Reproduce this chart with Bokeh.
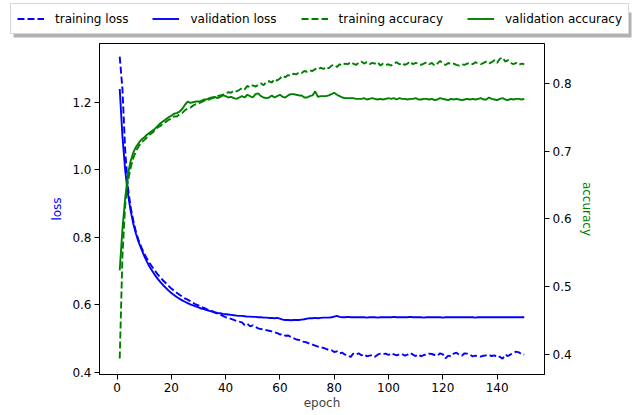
from bokeh.plotting import figure
from bokeh.models import (Range1d, LinearAxis, FixedTicker, Legend, LegendItem,
                          NumeralTickFormatter, BoxAnnotation)
from bokeh.embed import file_html
from bokeh.resources import INLINE

epochs = list(range(1, 151))

train_loss = [
    1.336, 1.240, 1.060, 0.950, 0.890, 0.850, 0.815, 0.790, 0.770, 0.752,
    0.737, 0.724, 0.712, 0.701, 0.690, 0.681, 0.672, 0.664, 0.656, 0.648,
    0.642, 0.636, 0.630, 0.624, 0.619, 0.615, 0.611, 0.606, 0.601, 0.598,
    0.594, 0.591, 0.587, 0.584, 0.581, 0.577, 0.574, 0.571, 0.567, 0.563,
    0.561, 0.558, 0.555, 0.552, 0.550, 0.548, 0.540, 0.544, 0.536, 0.539,
    0.534, 0.530, 0.528, 0.527, 0.525, 0.523, 0.521, 0.519, 0.516, 0.512,
    0.513, 0.508, 0.509, 0.505, 0.501, 0.497, 0.496, 0.491, 0.490, 0.488,
    0.484, 0.482, 0.479, 0.476, 0.474, 0.472, 0.469, 0.466, 0.465, 0.460,
    0.462, 0.456, 0.458, 0.452, 0.450, 0.445, 0.455, 0.452, 0.456, 0.450,
    0.453, 0.447, 0.449, 0.451, 0.446, 0.452, 0.455, 0.454, 0.455, 0.451,
    0.456, 0.453, 0.450, 0.453, 0.454, 0.449, 0.452, 0.457, 0.452, 0.448,
    0.453, 0.447, 0.451, 0.452, 0.455, 0.454, 0.451, 0.449, 0.456, 0.453,
    0.441, 0.449, 0.447, 0.455, 0.458, 0.452, 0.449, 0.456, 0.455, 0.452,
    0.447, 0.449, 0.448, 0.446, 0.449, 0.450, 0.451, 0.448, 0.450, 0.444,
    0.446, 0.440, 0.452, 0.448, 0.453, 0.457, 0.461, 0.459, 0.453, 0.452,
]

val_loss = [
    1.240, 1.100, 1.000, 0.930, 0.880, 0.840, 0.810, 0.785, 0.765, 0.745,
    0.728, 0.713, 0.700, 0.688, 0.677, 0.667, 0.658, 0.650, 0.642, 0.635,
    0.629, 0.623, 0.618, 0.613, 0.609, 0.605, 0.601, 0.598, 0.595, 0.592,
    0.589, 0.587, 0.584, 0.582, 0.580, 0.578, 0.576, 0.575, 0.573, 0.572,
    0.571, 0.570, 0.569, 0.568, 0.567, 0.567, 0.566, 0.565, 0.565, 0.564,
    0.564, 0.563, 0.563, 0.562, 0.562, 0.561, 0.561, 0.560, 0.561, 0.559,
    0.556, 0.555, 0.555, 0.554, 0.555, 0.555, 0.555, 0.556, 0.557, 0.559,
    0.560, 0.560, 0.561, 0.560, 0.561, 0.562, 0.562, 0.562, 0.563, 0.565,
    0.567, 0.564, 0.563, 0.563, 0.564, 0.563, 0.563, 0.563, 0.563, 0.563,
    0.563, 0.562, 0.563, 0.563, 0.563, 0.562, 0.563, 0.563, 0.563, 0.563,
    0.563, 0.564, 0.563, 0.563, 0.563, 0.563, 0.563, 0.564, 0.563, 0.563,
    0.563, 0.563, 0.562, 0.563, 0.563, 0.563, 0.563, 0.563, 0.563, 0.562,
    0.563, 0.563, 0.563, 0.563, 0.563, 0.563, 0.563, 0.563, 0.563, 0.563,
    0.563, 0.562, 0.563, 0.563, 0.563, 0.563, 0.563, 0.563, 0.563, 0.563,
    0.563, 0.563, 0.563, 0.563, 0.563, 0.563, 0.563, 0.563, 0.563, 0.563,
]

train_acc = [
    0.394, 0.545, 0.620, 0.655, 0.675, 0.690, 0.700, 0.707, 0.713, 0.716,
    0.720, 0.724, 0.727, 0.731, 0.735, 0.737, 0.741, 0.743, 0.746, 0.748,
    0.751, 0.751, 0.754, 0.756, 0.760, 0.763, 0.764, 0.767, 0.769, 0.770,
    0.772, 0.774, 0.775, 0.776, 0.778, 0.779, 0.781, 0.782, 0.783, 0.784,
    0.787, 0.786, 0.789, 0.788, 0.790, 0.793, 0.791, 0.796, 0.794, 0.797,
    0.795, 0.798, 0.800, 0.797, 0.802, 0.803, 0.801, 0.806, 0.804, 0.807,
    0.811, 0.809, 0.812, 0.811, 0.814, 0.813, 0.816, 0.815, 0.818, 0.817,
    0.819, 0.818, 0.821, 0.820, 0.823, 0.821, 0.824, 0.822, 0.826, 0.827,
    0.824, 0.828, 0.826, 0.829, 0.828, 0.831, 0.829, 0.827, 0.830, 0.832,
    0.829, 0.831, 0.828, 0.830, 0.829, 0.831, 0.826, 0.829, 0.827, 0.828,
    0.826, 0.829, 0.831, 0.828, 0.830, 0.827, 0.829, 0.832, 0.828, 0.830,
    0.829, 0.827, 0.829, 0.831, 0.828, 0.830, 0.826, 0.829, 0.833, 0.829,
    0.827, 0.830, 0.828, 0.829, 0.827, 0.826, 0.828, 0.827, 0.829, 0.830,
    0.828, 0.831, 0.829, 0.828, 0.830, 0.832, 0.829, 0.831, 0.834, 0.830,
    0.836, 0.838, 0.832, 0.834, 0.830, 0.828, 0.830, 0.827, 0.829, 0.828,
]

val_acc = [
    0.524, 0.585, 0.630, 0.665, 0.685, 0.698, 0.706, 0.712, 0.717, 0.720,
    0.724, 0.727, 0.730, 0.733, 0.737, 0.741, 0.744, 0.747, 0.750, 0.752,
    0.755, 0.756, 0.758, 0.762, 0.768, 0.773, 0.771, 0.772, 0.773, 0.773,
    0.774, 0.776, 0.776, 0.778, 0.779, 0.780, 0.778, 0.780, 0.782, 0.781,
    0.779, 0.780, 0.778, 0.777, 0.779, 0.781, 0.779, 0.783, 0.781, 0.779,
    0.784, 0.785, 0.781, 0.779, 0.778, 0.779, 0.782, 0.779, 0.781, 0.783,
    0.780, 0.779, 0.782, 0.784, 0.784, 0.783, 0.782, 0.782, 0.779, 0.779,
    0.781, 0.782, 0.788, 0.780, 0.781, 0.781, 0.781, 0.782, 0.784, 0.786,
    0.783, 0.781, 0.779, 0.778, 0.778, 0.778, 0.778, 0.777, 0.777, 0.777,
    0.778, 0.776, 0.777, 0.778, 0.777, 0.776, 0.777, 0.776, 0.777, 0.778,
    0.777, 0.778, 0.776, 0.778, 0.777, 0.777, 0.776, 0.777, 0.777, 0.778,
    0.776, 0.776, 0.777, 0.777, 0.776, 0.777, 0.775, 0.776, 0.778, 0.777,
    0.776, 0.775, 0.777, 0.776, 0.777, 0.776, 0.775, 0.776, 0.777, 0.776,
    0.777, 0.776, 0.777, 0.778, 0.776, 0.776, 0.779, 0.777, 0.776, 0.775,
    0.777, 0.778, 0.776, 0.775, 0.777, 0.776, 0.777, 0.777, 0.776, 0.777,
]

x_ticks = [0, 20, 40, 60, 80, 100, 120, 140]
loss_ticks = [0.4, 0.6, 0.8, 1.0, 1.2]
acc_ticks = [0.4, 0.5, 0.6, 0.7, 0.8]
series_labels = ["training loss", "validation loss",
                 "training accuracy", "validation accuracy"]

BLUE = "#0000ff"
GREEN = "#008000"
FONT = "DejaVu Sans"
FS = "12px"
LW = 1.9
DASH = "7 3"
W = 633
LEG_H = 38
MAIN_H = 415 - LEG_H

# ---- main plot ----
p = figure(width=W, height=MAIN_H, output_backend="svg", toolbar_location=None,
           x_range=Range1d(-6.45, 157.45), y_range=Range1d(0.3932, 1.375),
           min_border_left=99, min_border_right=89, min_border_top=5,
           min_border_bottom=41)
p.extra_y_ranges = {"acc": Range1d(0.3705, 0.8586)}

p.xgrid.grid_line_color = None
p.ygrid.grid_line_color = None
p.outline_line_color = "black"
p.outline_line_width = 1
p.background_fill_color = "white"
p.border_fill_color = "white"

acc_axis = LinearAxis(y_range_name="acc")
p.add_layout(acc_axis, "right")

for ax in [p.xaxis[0], p.yaxis[0], acc_axis]:
    ax.major_tick_out = 5
    ax.major_tick_in = 0
    ax.minor_tick_out = 0
    ax.minor_tick_in = 0
    ax.axis_line_color = "black"
    ax.major_tick_line_color = "black"
    ax.major_label_text_font = FONT
    ax.major_label_text_font_size = FS
    ax.major_label_text_color = "black"
    ax.axis_label_text_font = FONT
    ax.axis_label_text_font_size = FS
    ax.axis_label_text_font_style = "normal"
    ax.major_label_standoff = 3

p.xaxis.ticker = FixedTicker(ticks=x_ticks)
p.yaxis[0].ticker = FixedTicker(ticks=loss_ticks)
p.yaxis[0].formatter = NumeralTickFormatter(format="0.0")
acc_axis.ticker = FixedTicker(ticks=acc_ticks)
acc_axis.formatter = NumeralTickFormatter(format="0.0")

p.xaxis.axis_label = "epoch"
p.xaxis.axis_label_standoff = 1
p.yaxis[0].axis_label = "loss"
p.yaxis[0].axis_label_text_color = BLUE
p.yaxis[0].axis_label_standoff = 5
acc_axis.axis_label = "accuracy"
acc_axis.axis_label_text_color = GREEN
acc_axis.axis_label_standoff = 5

p.line(epochs, train_loss, line_color=BLUE, line_width=LW, line_dash=DASH)
p.line(epochs, val_loss, line_color=BLUE, line_width=LW)
p.line(epochs, train_acc, line_color=GREEN, line_width=LW, line_dash=DASH,
       y_range_name="acc")
p.line(epochs, val_acc, line_color=GREEN, line_width=LW, y_range_name="acc")

# ---- legend strip above the plot (its own root, no frame alignment) ----
lg = figure(width=W, height=LEG_H, output_backend="svg", toolbar_location=None,
            x_range=Range1d(0, W), y_range=Range1d(LEG_H, 0),
            x_axis_type=None, y_axis_type=None, min_border=0)
lg.xgrid.grid_line_color = None
lg.ygrid.grid_line_color = None
lg.outline_line_color = None
lg.background_fill_color = "white"
lg.border_fill_color = "white"

# legend shadow (decoration)
lg.add_layout(BoxAnnotation(left=13, right=631, top=12, bottom=37,
                            fill_color="#7f7f7f", fill_alpha=0.6,
                            line_color=None))

series = [(train_loss, BLUE, DASH), (val_loss, BLUE, "solid"),
          (train_acc, GREEN, DASH), (val_acc, GREEN, "solid")]
proxies = []
for ys, color, dash in series:
    proxies.append(lg.line(epochs, ys, line_color=color, line_width=LW,
                           line_dash=dash, visible=False))

legend = Legend(items=[LegendItem(label=lab, renderers=[r])
                       for lab, r in zip(series_labels, proxies)],
                orientation="horizontal", location=(10, 4),
                glyph_width=27, glyph_height=17, label_height=17,
                label_standoff=11, spacing=24, padding=6, margin=0,
                label_text_font=FONT, label_text_font_size=FS,
                label_text_color="black",
                border_line_color="#b0b0b0", border_line_width=1,
                background_fill_color="white", background_fill_alpha=1.0)
lg.add_layout(legend, "center")

open("out.html", "w").write(file_html([lg, p], INLINE))
